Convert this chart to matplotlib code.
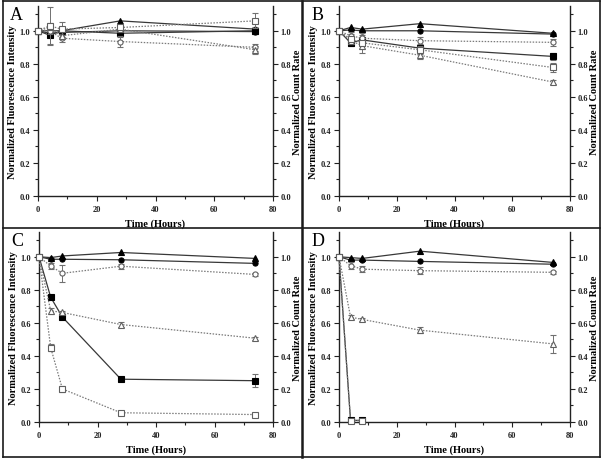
import matplotlib
matplotlib.use("Agg")
import matplotlib.pyplot as plt
from matplotlib.lines import Line2D
from matplotlib.ticker import MultipleLocator
import numpy as np

plt.rcParams['font.family'] = ['Liberation Serif', 'DejaVu Serif']

# Time points (hours)
t = [0, 4, 8, 28, 74]
t_short = [0, 4, 8]

# Panel A
A_tri_f = [1.0, 1.00, 1.00, 1.06, 1.01]
A_circ_f = [1.0, 0.985, 0.99, 1.00, 0.995]
A_sq_f = [1.0, 0.973, 1.00, 0.985, 1.00]
A_circ_o = [1.0, 1.00, 0.955, 0.935, 0.90]
A_tri_o = [1.0, 1.02, 0.97, 1.01, 0.885]
A_sq_o = [1.0, 1.03, 1.01, 1.02, 1.06]
A_err_sq_f = [0, 0.05, 0.02, 0.02, 0.02]
A_err_circ_o = [0, 0.02, 0.02, 0.035, 0.02]
A_err_tri_o = [0, 0.03, 0.02, 0.02, 0.025]
A_err_sq_o = [0, 0.115, 0.045, 0.02, 0.045]

# Panel B
B_tri_f = [1.0, 1.02, 1.01, 1.043, 0.985]
B_circ_f = [1.0, 1.005, 1.00, 1.00, 0.98]
B_sq_f = [1.0, 0.927, 0.945, 0.895, 0.845]
B_circ_o = [1.0, 0.97, 0.955, 0.94, 0.93]
B_tri_o = [1.0, 0.94, 0.91, 0.852, 0.69]
B_sq_o = [1.0, 0.95, 0.927, 0.885, 0.778]
B_err_sq_f = [0, 0.02, 0.02, 0.02, 0.02]
B_err_circ_o = [0, 0.02, 0.02, 0.02, 0.02]
B_err_tri_o = [0, 0.02, 0.02, 0.025, 0.01]
B_err_sq_o = [0, 0.03, 0.06, 0.025, 0.03]

# Panel C
C_tri_f = [1.0, 0.995, 1.005, 1.026, 0.99]
C_circ_f = [1.0, 0.985, 0.985, 0.982, 0.96]
C_sq_f = [1.0, 0.755, 0.635, 0.259, 0.25]
C_circ_o = [1.0, 0.944, 0.90, 0.943, 0.893]
C_tri_o = [1.0, 0.673, 0.663, 0.59, 0.507]
C_sq_o = [1.0, 0.45, 0.20, 0.056, 0.045]
C_err_sq_f = [0, 0.01, 0.01, 0.01, 0.04]
C_err_circ_o = [0, 0.02, 0.05, 0.015, 0.01]
C_err_tri_o = [0, 0.02, 0.01, 0.015, 0.01]
C_err_sq_o = [0, 0.02, 0.02, 0.005, 0.005]

# Panel D
D_tri_f = [1.0, 0.995, 0.99, 1.034, 0.966]
D_circ_f = [1.0, 0.98, 0.98, 0.972, 0.955]
D_sq_f = [1.0, 0.01, 0.01]
D_circ_o = [1.0, 0.947, 0.925, 0.916, 0.906]
D_tri_o = [1.0, 0.635, 0.621, 0.556, 0.473]
D_sq_o = [1.0, 0.008, 0.008]
D_err_circ_o = [0, 0.02, 0.02, 0.02, 0.01]
D_err_tri_o = [0, 0.01, 0.01, 0.02, 0.055]
D_err_sq_o = [0, 0.005, 0.005]

panel_letters = ["A", "B", "C", "D"]
y_ticks = [0.0, 0.2, 0.4, 0.6, 0.8, 1.0]
x_ticks = [0, 20, 40, 60, 80]

W, H = 602, 460
fig = plt.figure(figsize=(W / 100, H / 100), dpi=100)

def px_axes(l, r, b, tp):
    return [l / W, 1 - b / H, (r - l) / W, (b - tp) / H]

solid_c = '#383838'
dot_c = '#7a7a7a'
err_c = '#707070'
ms = 3.7

def series(ax, x, y, err, marker, filled, solid):
    kw = dict(marker=marker, markersize=ms, linewidth=0.9,
              color=solid_c if solid else dot_c,
              linestyle='-' if solid else (0, (1.2, 1.2)),
              markeredgewidth=0.8, zorder=3 if filled else 4, clip_on=False)
    if filled:
        kw.update(markerfacecolor='black', markeredgecolor='black')
    else:
        kw.update(markerfacecolor='white', markeredgecolor='#606060')
    if err is not None:
        ax.errorbar(x, y, yerr=err, ecolor=err_c, elinewidth=0.7, capsize=2,
                    capthick=0.7, **kw)
    else:
        ax.plot(x, y, **kw)

def style_ticks(a):
    a.tick_params(which='both', direction='out', width=0.8, colors='#222222', labelsize=6, pad=2)
    a.tick_params(which='major', length=3.5)
    a.tick_params(which='minor', length=2)

def setup(ax, letter):
    ax.set_xlim(0, 80)
    ax.set_ylim(0, 1.15)
    ax.spines['top'].set_visible(False)
    ax.spines['right'].set_visible(False)
    for s in ['left', 'bottom']:
        ax.spines[s].set_linewidth(1.0)
        ax.spines[s].set_color('#222222')
    ax.xaxis.set_minor_locator(MultipleLocator(10))
    ax.yaxis.set_minor_locator(MultipleLocator(0.1))
    ax.set_yticks(y_ticks)
    ax.set_yticklabels([f"{v:.1f}" for v in y_ticks], fontweight='bold')
    ax.set_xticks(x_ticks)
    ax.set_xticklabels([str(v) for v in x_ticks], fontweight='bold')
    ax.set_xlabel("Time (Hours)", fontsize=7.5, fontweight='bold', labelpad=4)
    ax.set_ylabel("Normalized Fluorescence Intensity", fontsize=7.5, fontweight='bold', labelpad=2)
    ax.text(-0.12, 1.0, letter, transform=ax.transAxes, fontsize=13,
            ha='left', va='top', fontfamily='Liberation Serif')
    ax2 = ax.twinx()
    ax2.set_ylim(0, 1.15)
    ax2.spines['top'].set_visible(False)
    ax2.spines['left'].set_visible(False)
    ax2.spines['bottom'].set_visible(False)
    ax2.spines['right'].set_linewidth(1.0)
    ax2.spines['right'].set_color('#222222')
    ax2.yaxis.set_minor_locator(MultipleLocator(0.1))
    ax2.set_yticks(y_ticks)
    ax2.set_yticklabels([f"{v:.1f}" for v in y_ticks], fontweight='bold')
    ax2.set_ylabel("Normalized Count Rate", fontsize=7.5, fontweight='bold', labelpad=1)
    style_ticks(ax)
    style_ticks(ax2)
    ax.tick_params(axis='x', pad=3)
    ax.tick_params(which='both', top=False, right=False)
    ax2.tick_params(which='both', left=False, right=True)
    ax.set_zorder(ax2.get_zorder() + 1)
    ax.patch.set_visible(False)

# Axes rects in pixels
axA = fig.add_axes(px_axes(38, 273, 197, 7))
axB = fig.add_axes(px_axes(339, 570, 197, 7))
axC = fig.add_axes(px_axes(39, 273, 423, 233))
axD = fig.add_axes(px_axes(339, 570, 423, 233))

panels = [
    (axA, A_tri_f, A_circ_f, A_sq_f, A_circ_o, A_tri_o, A_sq_o, A_err_sq_f, A_err_circ_o, A_err_tri_o, A_err_sq_o),
    (axB, B_tri_f, B_circ_f, B_sq_f, B_circ_o, B_tri_o, B_sq_o, B_err_sq_f, B_err_circ_o, B_err_tri_o, B_err_sq_o),
    (axC, C_tri_f, C_circ_f, C_sq_f, C_circ_o, C_tri_o, C_sq_o, C_err_sq_f, C_err_circ_o, C_err_tri_o, C_err_sq_o),
]
for (ax, trf, cif, sqf, cio, trio, sqo, esqf, ecio, etrio, esqo), L in zip(panels, panel_letters[:3]):
    setup(ax, L)
    series(ax, t, cio, ecio, 'o', False, False)
    series(ax, t, trio, etrio, '^', False, False)
    series(ax, t, sqo, esqo, 's', False, False)
    series(ax, t, sqf, esqf, 's', True, True)
    series(ax, t, cif, None, 'o', True, True)
    series(ax, t, trf, None, '^', True, True)

setup(axD, "D")
series(axD, t, D_circ_o, D_err_circ_o, 'o', False, False)
series(axD, t, D_tri_o, D_err_tri_o, '^', False, False)
series(axD, t_short, D_sq_f, None, 's', True, True)
series(axD, t_short, D_sq_o, D_err_sq_o, 's', False, False)
series(axD, t, D_circ_f, None, 'o', True, True)
series(axD, t, D_tri_f, None, '^', True, True)

# Panel frames
def fl(x0, y0, x1, y1, lw):
    fig.add_artist(Line2D([x0 / W, x1 / W], [1 - y0 / H, 1 - y1 / H], color='#1a1a1a', linewidth=lw))

fl(3, 2, 600, 2, 1.2)
fl(3, 458, 600, 458, 1.2)
fl(3, 2, 3, 458, 1.2)
fl(600, 2, 600, 458, 1.2)
fl(302, 2, 302, 458, 1.8)
fl(3, 229, 600, 229, 1.2)

fig.savefig("out.png", dpi=100)
